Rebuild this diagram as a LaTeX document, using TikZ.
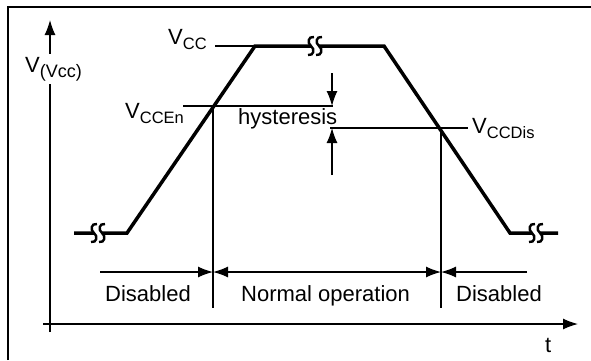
\documentclass[tikz,border=0pt]{standalone}
\usepackage{fontspec}
\setmainfont{Liberation Sans}
\usetikzlibrary{arrows.meta}
\newcommand{\subtxt}[2][16.5]{\raisebox{-5pt}{\fontsize{#1}{#1}\selectfont #2}}
\tikzset{
    thin-line/.style = {line width=1.3pt},
    level-curve/.style = {line width=3.5pt, line join=miter},
    dim-arrow/.style = {thin-line, -{Latex[length=15pt,width=11pt]}},
    lbl/.style = {inner sep=0pt, anchor=base west, font=\fontsize{22}{26}\selectfont},
    break-mark/.style = {line width=2.4pt},
}

\begin{document}
\begin{tikzpicture}[x=1pt,y=-1pt]
\useasboundingbox (0,0) rectangle (591,360);
% frame
\draw[line width=1.5pt] (8,360) -- (8,7) -- (591,7);

% axes
\coordinate (yb) at (50,332);
\coordinate (yt) at (50,20);
\coordinate (xl) at (43,324);
\coordinate (xr) at (578,324);
\draw[dim-arrow] (yb) -- (yt);
\draw[dim-arrow] (xl) -- (xr);
\node[lbl, fill=white, inner ysep=3pt] (vaxis) at (25,72) {V\subtxt[18]{(Vcc)}};
\node[lbl] (t) at (545,352) {t};

% supply curve
\coordinate (c0) at (74,233);
\coordinate (c1) at (127,233);
\coordinate (c2) at (255,46);
\coordinate (c3) at (384,46);
\coordinate (c4) at (510,233);
\coordinate (c5) at (558,233);
\draw[level-curve] (c0) -- (c1) -- (c2) -- (c3) -- (c4) -- (c5);
\foreach \bx/\by in {98/233, 315/46, 536/233} {
    \fill[white] (\bx-4,\by-3) rectangle (\bx+4,\by+3);
    \foreach \dx in {-4,4}
        \draw[break-mark] (\bx+\dx+3,\by-9) .. controls (\bx+\dx-3,\by-10) and (\bx+\dx-4,\by-3) .. (\bx+\dx,\by)
            .. controls (\bx+\dx+4,\by+3) and (\bx+\dx+3,\by+10) .. (\bx+\dx-3,\by+9);
}

% levels
\coordinate (vcc-l) at (215,46);
\coordinate (en-l) at (183,106);
\coordinate (en-r) at (333,106);
\coordinate (dis-l) at (330,128);
\coordinate (dis-r) at (468,128);
\coordinate (en-top) at (213,106);
\coordinate (en-bot) at (213,308);
\coordinate (dis-top) at (441,128);
\coordinate (dis-bot) at (441,308);
\draw[thin-line] (vcc-l) -- (c2);
\draw[thin-line] (en-l) -- (en-r);
\draw[thin-line] (dis-l) -- (dis-r);
\draw[thin-line] (en-top) -- (en-bot);
\draw[thin-line] (dis-top) -- (dis-bot);
\node[lbl] (vcc) at (168,44) {V\subtxt{CC}};
\node[lbl] (vccen) at (125,118) {V\subtxt{CCEn}};
\node[lbl] (vccdis) at (472,133) {V\subtxt{CCDis}};

% hysteresis
\coordinate (hy-top) at (332,73);
\coordinate (hy-a) at (332,106);
\coordinate (hy-b) at (332,128);
\coordinate (hy-bot) at (332,175);
\draw[dim-arrow] (hy-top) -- (hy-a);
\draw[dim-arrow] (hy-bot) -- (hy-b);
\node[lbl] (hyst) at (238,124) {hysteresis};

% operating ranges
\coordinate (r0) at (100,272);
\coordinate (r1) at (213,272);
\coordinate (r2) at (441,272);
\coordinate (r3) at (527,272);
\draw[dim-arrow] (r0) -- (r1);
\draw[dim-arrow, {Latex[length=15pt,width=11pt]}-{Latex[length=15pt,width=11pt]}] (r1) -- (r2);
\draw[dim-arrow] (r3) -- (r2);
\node[lbl] (dis1) at (105,301) {Disabled};
\node[lbl] (normal) at (241,301) {Normal operation};
\node[lbl] (dis2) at (456,301) {Disabled};
\end{tikzpicture}
\end{document}
